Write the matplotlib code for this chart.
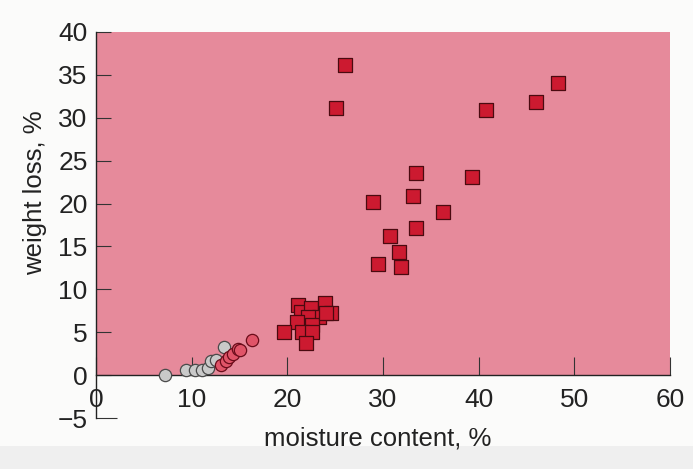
import matplotlib
matplotlib.use("Agg")
import matplotlib.pyplot as plt
from matplotlib.patches import Rectangle

# ---- data ----
square_x = [26.0, 25.1, 48.3, 46.0, 40.8, 33.5, 39.3, 33.1, 29.0, 36.3, 33.4, 30.7,
            31.7, 29.5, 31.9, 21.1, 21.4, 22.5, 23.9, 24.6, 23.3, 22.2, 21.0, 22.6,
            21.5, 22.6, 19.7, 22.0, 24.0]
square_y = [36.2, 31.1, 34.1, 31.8, 30.9, 23.6, 23.1, 20.9, 20.2, 19.0, 17.1, 16.2,
            14.3, 13.0, 12.6, 8.2, 7.4, 7.8, 8.4, 7.3, 6.8, 6.8, 6.2, 5.8,
            5.0, 5.0, 5.0, 3.7, 7.2]

gray_x = [7.2, 9.4, 10.3, 11.1, 11.7, 12.0, 12.5, 13.4]
gray_y = [0.0, 0.6, 0.6, 0.6, 0.8, 1.6, 1.8, 3.3]

pink_x = [13.1, 13.6, 13.9, 14.3, 14.8, 15.1, 16.3]
pink_y = [1.2, 1.6, 2.1, 2.5, 3.1, 2.9, 4.1]

x_ticks = [0, 10, 20, 30, 40, 50, 60]
y_ticks = [-5, 0, 5, 10, 15, 20, 25, 30, 35, 40]
region_bottom, region_top = 0, 40

# ---- figure ----
fig = plt.figure(figsize=(6.93, 4.69), dpi=100)
fig.patch.set_facecolor("#fbfbfa")
fig.add_artist(Rectangle((0, 0), 1, 0.05, transform=fig.transFigure,
                         facecolor="#efefef", edgecolor="none", zorder=0))

ax = fig.add_axes([0.1385, 0.1087, 0.8283, 0.8231])
ax.set_facecolor("none")
ax.set_xlim(0, 60)
ax.set_ylim(-5, 40)

ax.axhspan(region_bottom, region_top, facecolor="#e68a9b", edgecolor="none", zorder=0)

ax.scatter(gray_x, gray_y, s=78, marker="o", facecolor="#c9c9c9",
           edgecolor="#4a4a4a", linewidth=0.9, zorder=3)
ax.scatter(pink_x, pink_y, s=78, marker="o", facecolor="#e05468",
           edgecolor="#6a0c1a", linewidth=0.9, zorder=4)
ax.scatter(square_x, square_y, s=92, marker="s", facecolor="#cc1a30",
           edgecolor="#4a0a10", linewidth=0.9, zorder=5)

font = "Liberation Sans"
for sp in ["top", "right"]:
    ax.spines[sp].set_visible(False)
ax.spines["bottom"].set_position(("data", 0))
ax.spines["bottom"].set_color("#222222")
ax.spines["left"].set_color("#222222")
ax.spines["bottom"].set_linewidth(1.0)
ax.spines["left"].set_linewidth(1.0)

ax.set_xticks(x_ticks)
ax.set_yticks(y_ticks)
ax.tick_params(axis="x", direction="in", length=13, width=0.8, color="#333333",
               pad=9, labelsize=19, labelcolor="#222222")
ax.tick_params(axis="y", direction="in", length=11, width=0.8, color="#333333",
               pad=6, labelsize=19, labelcolor="#222222")
for lab in ax.get_xticklabels() + ax.get_yticklabels():
    lab.set_fontfamily(font)
# longer tick at the bottom of the axis
ax.yaxis.get_major_ticks()[0].tick1line.set_markersize(15)

ax.set_xlabel("moisture content, %", fontsize=18.5, fontfamily=font, color="#222222")
ax.xaxis.set_label_coords(0.49, -0.022)
ax.set_ylabel("weight loss, %", fontsize=18.5, fontfamily=font, color="#222222")
ax.yaxis.label.set_va("center")
ax.yaxis.set_label_coords(-0.106, 0.583)

fig.savefig("out.png", dpi=100, facecolor=fig.get_facecolor())
